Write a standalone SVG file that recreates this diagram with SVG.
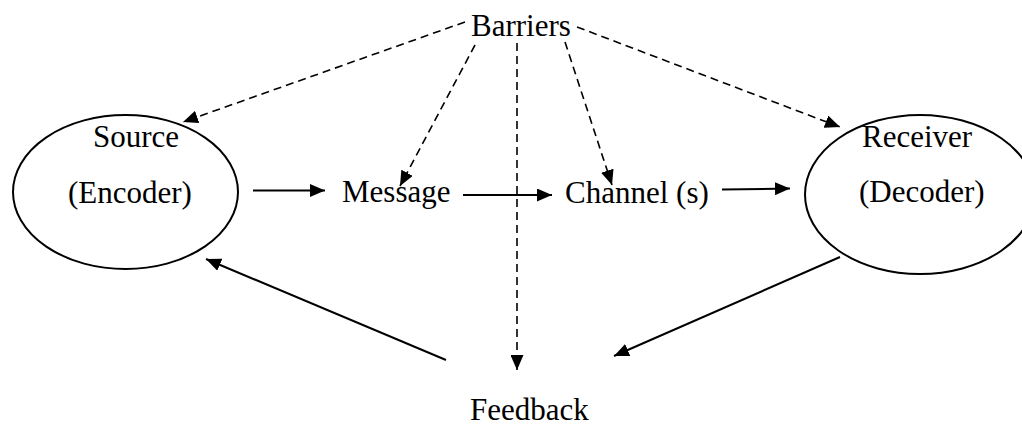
<svg xmlns="http://www.w3.org/2000/svg" width="1022" height="426" viewBox="0 0 1022 426">
<style>
text{font-family:"Liberation Serif","Times New Roman",serif;font-size:31px;fill:#000}
.node{fill:none;stroke:#000;stroke-width:2}
.solid{stroke:#000;stroke-width:2;fill:none}
.dash{stroke:#000;stroke-width:1.6;fill:none;stroke-dasharray:8 5}
</style>
<defs>
<marker id="ah" markerUnits="userSpaceOnUse" markerWidth="16" markerHeight="13" refX="15" refY="6.5" orient="auto">
<path d="M0,0 L15,6.5 L0,13 z" fill="#000"/>
</marker>
</defs>
<rect width="1022" height="426" fill="#fff"/>
<g id="source">
<ellipse class="node" cx="125.5" cy="192" rx="112.5" ry="77"/>
<text x="93" y="147">Source</text>
<text x="68" y="203">(Encoder)</text>
</g>
<g id="receiver">
<ellipse class="node" cx="920" cy="194.5" rx="115" ry="79.5"/>
<text x="862" y="147">Receiver</text>
<text x="859" y="202">(Decoder)</text>
</g>
<g id="barriers"><text x="471" y="36">Barriers</text></g>
<g id="message"><text x="342" y="202">Message</text></g>
<g id="channel"><text x="565" y="203">Channel (s)</text></g>
<g id="feedback"><text x="470" y="420">Feedback</text></g>
<g id="connectors">
<line class="solid" x1="253" y1="190.5" x2="325" y2="190.5" marker-end="url(#ah)"/>
<line class="solid" x1="463" y1="195" x2="552" y2="195" marker-end="url(#ah)"/>
<line class="solid" x1="722" y1="189.5" x2="790" y2="188.5" marker-end="url(#ah)"/>
<line class="solid" x1="840" y1="257" x2="614" y2="356" marker-end="url(#ah)"/>
<line class="solid" x1="446" y1="360" x2="206" y2="259" marker-end="url(#ah)"/>
<line class="dash" x1="465" y1="22" x2="183" y2="122" marker-end="url(#ah)"/>
<line class="dash" x1="475" y1="45" x2="400" y2="186" marker-end="url(#ah)"/>
<line class="dash" x1="517" y1="43" x2="517" y2="370" marker-end="url(#ah)"/>
<line class="dash" x1="565" y1="42" x2="612" y2="185" marker-end="url(#ah)"/>
<line class="dash" x1="577" y1="27" x2="840" y2="127" marker-end="url(#ah)"/>
</g>
</svg>
